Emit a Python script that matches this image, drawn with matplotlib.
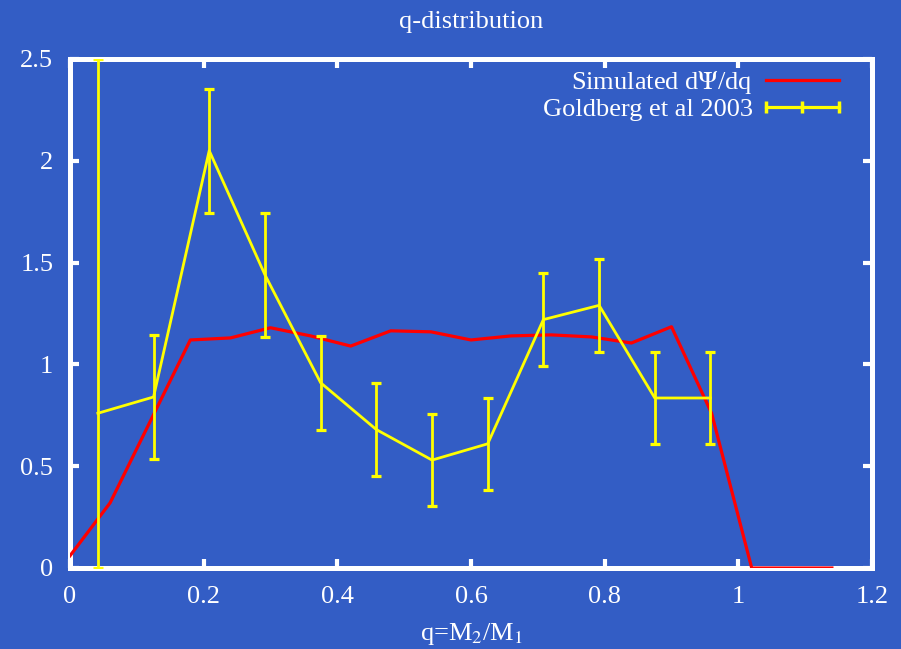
import matplotlib
matplotlib.use('Agg')
import matplotlib.pyplot as plt
from matplotlib.lines import Line2D
import numpy as np

# simulated mass-ratio distribution
q_sim = [0.00, 0.06, 0.12, 0.18, 0.24, 0.30, 0.36, 0.42, 0.48, 0.54,
         0.60, 0.66, 0.72, 0.78, 0.84, 0.90, 0.96, 1.02, 1.08, 1.14]
dpsi_dq = [0.06, 0.32, 0.72, 1.12, 1.13, 1.18, 1.14, 1.09, 1.165, 1.16,
           1.12, 1.14, 1.145, 1.135, 1.105, 1.185, 0.76, 0.0, 0.0, 0.0]

# Goldberg et al 2003 binned data
q_obs = [0.0417, 0.125, 0.2083, 0.2917, 0.375, 0.4583,
         0.5417, 0.625, 0.7083, 0.7917, 0.875, 0.9583]
f_obs = [0.76, 0.84, 2.05, 1.44, 0.91, 0.68,
         0.53, 0.61, 1.22, 1.29, 0.835, 0.835]
err_lo = [0.76, 0.305, 0.305, 0.305, 0.23, 0.227,
          0.227, 0.227, 0.227, 0.227, 0.227, 0.227]
err_hi = [1.74, 0.305, 0.305, 0.305, 0.23, 0.227,
          0.227, 0.227, 0.227, 0.227, 0.227, 0.227]

bg = '#335dc5'
fs = 19
plt.rcParams['font.family'] = ['Liberation Serif', 'DejaVu Serif']
plt.rcParams['mathtext.fontset'] = 'stix'
plt.rcParams['font.size'] = fs

fig = plt.figure(figsize=(9.01, 6.49), dpi=100, facecolor=bg)
ax = fig.add_axes([70/901, 1 - 568/649, 802/901, 509/649])
ax.set_facecolor(bg)

ax.plot(q_sim, dpsi_dq, color='#ff0000', lw=2.3, zorder=3)
ax.errorbar(q_obs, f_obs, yerr=[err_lo, err_hi], color='#ffff00', lw=2.0,
            elinewidth=2.0, capsize=3.5, capthick=2.3, zorder=4)

ax.set_xlim(0, 1.2)
ax.set_ylim(0, 2.5)
ax.set_xticks(np.arange(0, 1.21, 0.2))
ax.set_xticklabels(['0', '0.2', '0.4', '0.6', '0.8', '1', '1.2'])
ax.set_yticks(np.arange(0, 2.51, 0.5))
ax.set_yticklabels(['0', '0.5', '1', '1.5', '2', '2.5'])

for s in ax.spines.values():
    s.set_color('white')
    s.set_linewidth(3.6)
ax.tick_params(direction='in', length=6.5, width=3, colors='white',
               top=True, right=True, labelsize=fs)
ax.tick_params(axis='x', pad=13)
ax.tick_params(axis='y', pad=12)

ax.set_title('q-distribution', color='white', fontsize=fs, pad=22)
ax.set_xlabel(r'q=M$_2$/M$_1$', color='white', fontsize=fs, labelpad=9)

handles = [Line2D([], [], color='#ff0000', lw=2.3),
           Line2D([], [], color='#ffff00', lw=2.3, marker='|', ms=8, mew=2.5)]
leg = ax.legend(handles, [r'Simulated d$\Psi$/dq', 'Goldberg et al 2003'],
                loc='upper right', bbox_to_anchor=(0.985, 1.006), frameon=False,
                markerfirst=False, numpoints=3, handlelength=3.37, borderpad=0,
                labelspacing=0.05, handletextpad=0.2, fontsize=fs)
for t in leg.get_texts():
    t.set_color('white')

fig.savefig('out.png', dpi=100, facecolor=bg)
